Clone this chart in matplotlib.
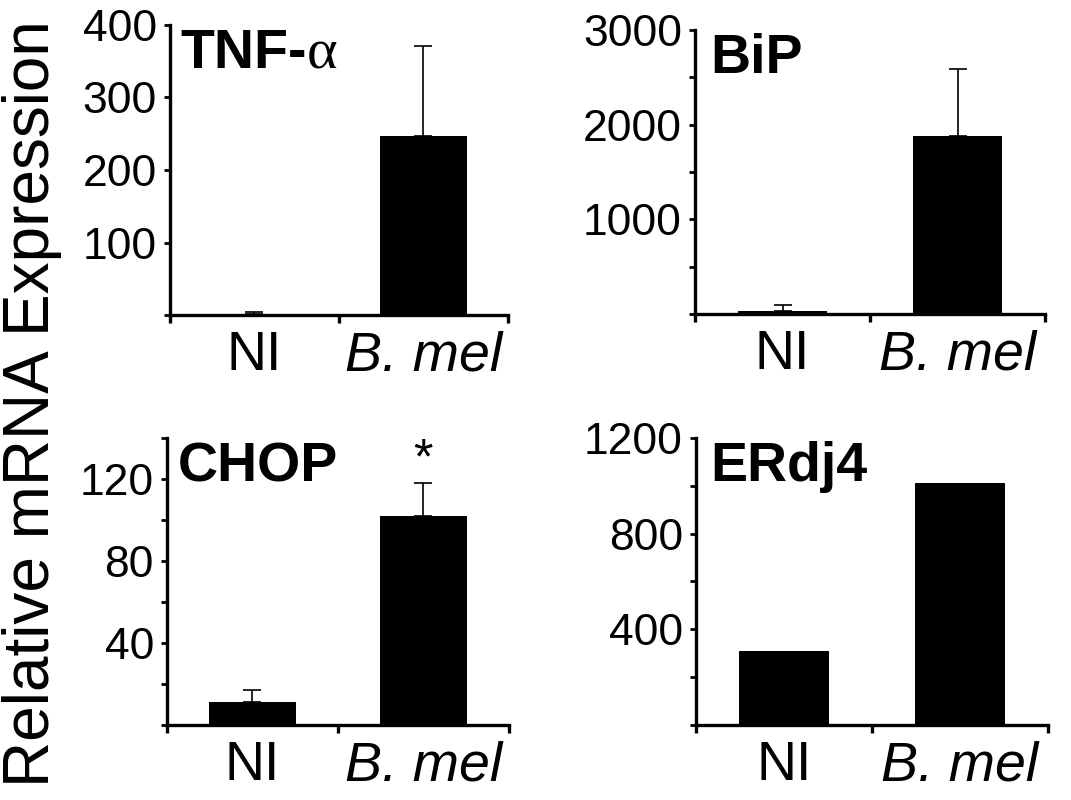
import matplotlib
matplotlib.use("Agg")
import matplotlib.pyplot as plt
from matplotlib.ticker import FixedLocator, NullFormatter

plt.rcParams['font.family'] = ['Liberation Sans', 'DejaVu Sans']

categories = ["NI", "B. mel"]

tnf_values = [2, 247]
tnf_errors = [3, 124]

bip_values = [35, 1880]
bip_errors = [55, 710]

chop_values = [11, 102]
chop_errors = [6, 16]

erdj4_values = [307, 1011]
erdj4_errors = None

panels = [
    dict(name="TNF-", greek="α", values=tnf_values, errors=tnf_errors,
         ylim=400, ticks=[0, 100, 200, 300, 400], labels=["", "100", "200", "300", "400"],
         pos=[0.1587, 0.606, 0.3156, 0.363], tx=0.03),
    dict(name="BiP", greek=None, values=bip_values, errors=bip_errors,
         ylim=3000, ticks=[0, 500, 1000, 1500, 2000, 2500, 3000],
         labels=["", "", "1000", "", "2000", "", "3000"],
         pos=[0.649, 0.6075, 0.3267, 0.355], tx=0.043),
    dict(name="CHOP", greek=None, values=chop_values, errors=chop_errors,
         ylim=140, ticks=[0, 20, 40, 60, 80, 100, 120, 140],
         labels=["", "", "40", "", "80", "", "120", ""],
         pos=[0.156, 0.094, 0.319, 0.3585], tx=0.032),
    dict(name="ERdj4", greek=None, values=erdj4_values, errors=erdj4_errors,
         ylim=1200, ticks=[0, 200, 400, 600, 800, 1000, 1200],
         labels=["", "", "400", "", "800", "", "1200"],
         pos=[0.65, 0.094, 0.3285, 0.3585], tx=0.04),
]

fig = plt.figure(figsize=(10.71, 8), dpi=100)

axes = []
for p in panels:
    ax = fig.add_axes(p["pos"])
    axes.append((ax, p))
    x = list(range(len(categories)))
    ax.bar(x, p["values"], width=0.51, color="black", zorder=2)
    if p["errors"] is not None:
        ax.errorbar(x, p["values"], yerr=[[0] * len(x), p["errors"]], fmt="none",
                    ecolor="black", elinewidth=1.2, capsize=6.5, capthick=1.2, zorder=3)
    ax.set_xlim(-0.5, 1.5)
    ax.set_ylim(0, p["ylim"])
    for s in ["top", "right"]:
        ax.spines[s].set_visible(False)
    for s in ["left", "bottom"]:
        ax.spines[s].set_linewidth(2.4)
    ax.set_yticks(p["ticks"])
    ax.set_yticklabels(p["labels"])
    ax.tick_params(axis="y", direction="out", length=4.5, width=2, pad=5, labelsize=32)
    ax.set_xticks(x)
    ax.set_xticklabels(categories)
    for lbl in ax.get_xticklabels():
        if lbl.get_text() == "B. mel":
            lbl.set_fontstyle("italic")
    ax.xaxis.set_minor_locator(FixedLocator([-0.5, 0.5, 1.5]))
    ax.xaxis.set_minor_formatter(NullFormatter())
    ax.tick_params(axis="x", which="major", length=0, pad=11, labelsize=40)
    ax.tick_params(axis="x", which="minor", direction="out", length=6, width=2.4)
    t = ax.text(p["tx"], 0.85, p["name"], transform=ax.transAxes, fontsize=40,
                fontweight="bold", ha="left", va="baseline")
    if p["greek"]:
        ax.annotate(p["greek"], xy=(1, 0), xycoords=t, fontsize=42,
                    family=["Liberation Serif", "DejaVu Serif"], ha="left", va="bottom")

# significance asterisk on CHOP
chop_ax = axes[2][0]
chop_ax.text(1, chop_values[1] + chop_errors[1] + 11, "*", ha="center", va="center",
             fontsize=36, clip_on=False)

fig.text(0.03, 0.495, "Relative mRNA Expression", rotation=90, ha="center", va="center",
         fontsize=46)

fig.savefig("out.png", dpi=100)
